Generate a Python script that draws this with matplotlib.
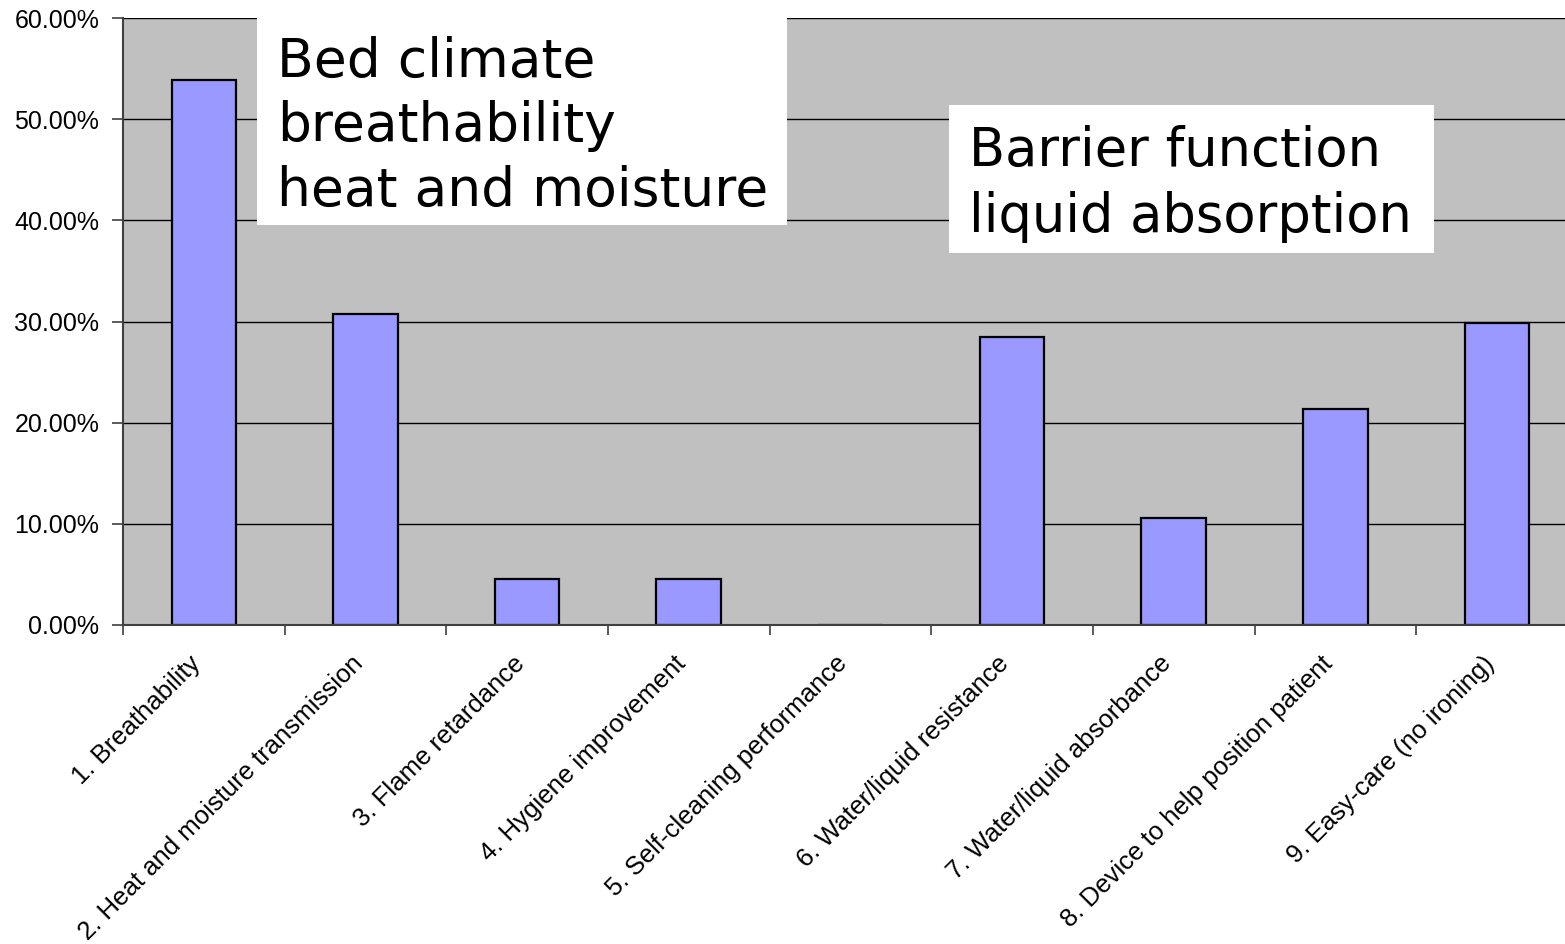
import matplotlib
matplotlib.use("Agg")
import matplotlib.pyplot as plt
from matplotlib.patches import Rectangle
from matplotlib.ticker import FixedLocator, PercentFormatter
from matplotlib.transforms import ScaledTranslation

categories = ["1. Breathability",
              "2. Heat and moisture transmission",
              "3. Flame retardance",
              "4. Hygiene improvement",
              "5. Self-cleaning performance",
              "6. Water/liquid resistance",
              "7. Water/liquid absorbance",
              "8. Device to help position patient",
              "9. Easy-care (no ironing)"]
shares = [0.5385, 0.3077, 0.0450, 0.0450, 0.0, 0.2846, 0.1060, 0.2140, 0.2985]
yticks = [0.0, 0.1, 0.2, 0.3, 0.4, 0.5, 0.6]

box1_lines = ["Bed climate", "breathability", "heat and moisture"]
box2_lines = ["Barrier function", "liquid absorption"]

W, H = 1565, 944
fig = plt.figure(figsize=(W / 100, H / 100), dpi=100)
fig.patch.set_facecolor("white")

# plot area runs a bit past the right edge of the picture
ax = fig.add_axes([123 / W, (H - 625) / H, 1455 / W, 607 / H])
ax.set_facecolor("#C0C0C0")

x = range(len(categories))
ax.bar(x, shares, width=0.4, color="#9999FF", edgecolor="black",
       linewidth=1.6, zorder=3)

ax.set_xlim(-0.5, len(categories) - 0.5)
ax.set_ylim(0, 0.6)

# y axis
ax.set_yticks(yticks)
ax.yaxis.set_major_formatter(PercentFormatter(1.0, decimals=2))
ax.yaxis.grid(True, color="black", linewidth=1.0, zorder=1)
ax.tick_params(axis="y", length=8, width=1.2, color="#404040", pad=9,
               labelsize=18)

# x axis: labels at centres, tick marks between categories
ax.set_xticks(list(x))
ax.set_xticklabels(categories)
ax.xaxis.set_minor_locator(FixedLocator([i - 0.5 for i in range(len(categories) + 1)]))
ax.tick_params(axis="x", which="major", length=0, pad=19, labelsize=18.5)
ax.tick_params(axis="x", which="minor", length=7, width=1.2, color="#404040")
shift = ScaledTranslation(-15 / 100, 0, fig.dpi_scale_trans)
for lab in ax.get_xticklabels():
    lab.set_rotation(45)
    lab.set_ha("right")
    lab.set_va("top")
    lab.set_rotation_mode("anchor")
    lab.set_transform(lab.get_transform() + shift)

for lab in ax.get_xticklabels() + ax.get_yticklabels():
    lab.set_family("Liberation Sans")

for s in ["top", "right"]:
    ax.spines[s].set_visible(False)
for s in ["left", "bottom"]:
    ax.spines[s].set_color("#404040")
    ax.spines[s].set_linewidth(1.5)
    ax.spines[s].set_zorder(3.5)
ax.set_axisbelow(True)

# white annotation boxes
def add_box(x0, y0, x1, y1, lines, tx, base0, step, size):
    fig.add_artist(Rectangle((x0 / W, 1 - y1 / H), (x1 - x0) / W, (y1 - y0) / H,
                             transform=fig.transFigure, facecolor="white",
                             edgecolor="none", zorder=5))
    for i, line in enumerate(lines):
        fig.text(tx / W, 1 - (base0 + i * step) / H, line, fontsize=size,
                 family="DejaVu Sans", va="baseline", ha="left", zorder=6)

add_box(257, 18, 787, 225, box1_lines, 277, 77, 64.5, 38.5)
add_box(949, 105, 1434, 253, box2_lines, 969, 166, 66, 38)

fig.savefig("out.png", dpi=100)
